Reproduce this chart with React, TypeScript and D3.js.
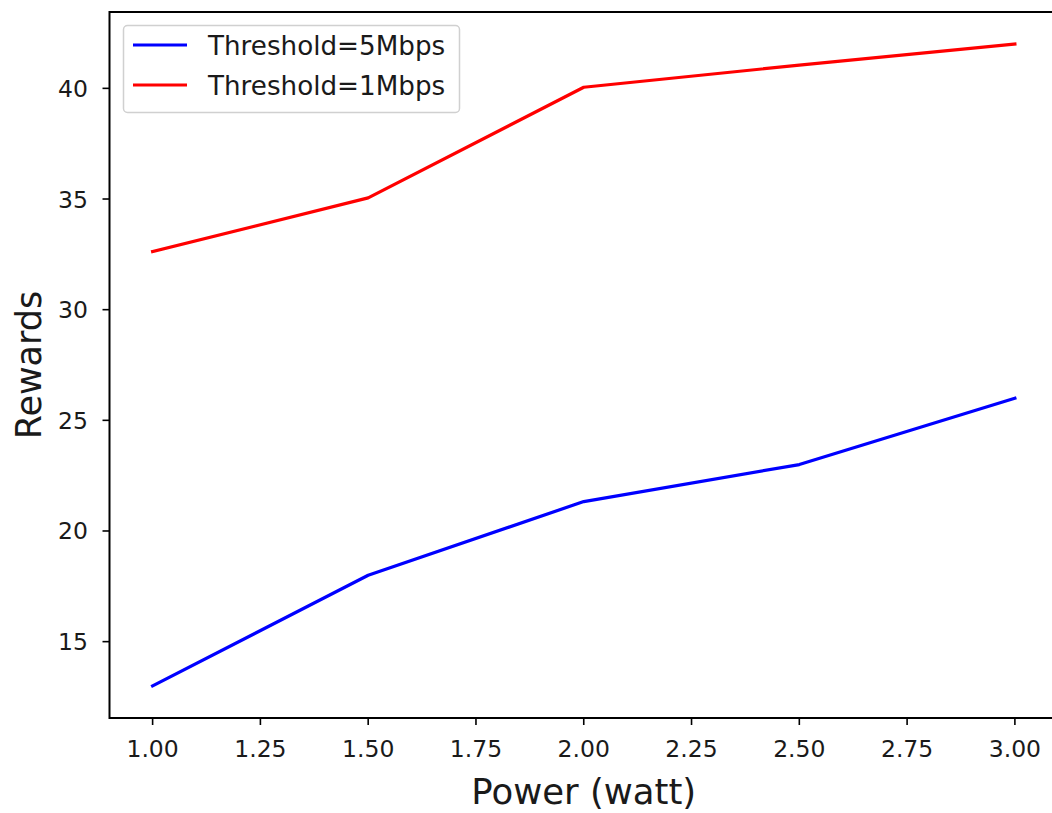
import React from "react";
import * as d3 from "d3";

const powers = [1.0, 1.5, 2.0, 2.5, 3.0];
const rewards5Mbps = [13.0, 18.0, 21.33, 23.0, 26.0];
const rewards1Mbps = [32.63, 35.05, 40.05, 41.05, 42.0];
const xTicks = [1.0, 1.25, 1.5, 1.75, 2.0, 2.25, 2.5, 2.75, 3.0];
const yTicks = [15, 20, 25, 30, 35, 40];
const seriesNames = ["Threshold=5Mbps", "Threshold=1Mbps"];
const seriesColors = ["#0000ff", "#ff0000"];

const W = 1052;
const H = 813;
const left = 109.5;
const right = 1058;
const top = 12;
const bottom = 718;
const font = "'DejaVu Sans', sans-serif";

export default function App() {
  const x = d3.scaleLinear().domain([0.9, 3.1]).range([left, right]);
  const allY = [...rewards5Mbps, ...rewards1Mbps];
  const yMin = d3.min(allY) as number;
  const yMax = d3.max(allY) as number;
  const pad = (yMax - yMin) * 0.05;
  const y = d3.scaleLinear().domain([yMin - pad, yMax + pad]).range([bottom, top]);
  const line = d3
    .line<number>()
    .x((_, i) => x(powers[i]))
    .y((d) => y(d));
  const series = [rewards5Mbps, rewards1Mbps];

  return (
    <svg
      width={W}
      height={H}
      style={{ position: "absolute", left: 0, top: 0, background: "#fff" }}
      fontFamily={font}
    >
      <rect x={0} y={0} width={W} height={H} fill="#fff" />
      {series.map((s, k) => (
        <path
          key={k}
          d={line(s) || ""}
          fill="none"
          stroke={seriesColors[k]}
          strokeWidth={3.2}
          strokeLinecap="square"
          strokeLinejoin="round"
        />
      ))}
      <rect
        x={left}
        y={top}
        width={right - left}
        height={bottom - top}
        fill="none"
        stroke="#000"
        strokeWidth={2}
      />
      {xTicks.map((t) => (
        <g key={t}>
          <line x1={x(t)} x2={x(t)} y1={bottom} y2={bottom + 7} stroke="#000" strokeWidth={1.6} />
          <text x={x(t)} y={757} textAnchor="middle" fontSize={23.5} fill="#1a1a1a">
            {t.toFixed(2)}
          </text>
        </g>
      ))}
      {yTicks.map((t) => (
        <g key={t}>
          <line x1={left - 7} x2={left} y1={y(t)} y2={y(t)} stroke="#000" strokeWidth={1.6} />
          <text x={88} y={y(t) + 8.5} textAnchor="end" fontSize={23.5} fill="#1a1a1a">
            {t}
          </text>
        </g>
      ))}
      <text x={(left + right) / 2} y={804} textAnchor="middle" fontSize={35.5} fill="#1a1a1a">
        Power (watt)
      </text>
      <text
        transform={`translate(41, ${(top + bottom) / 2}) rotate(-90)`}
        textAnchor="middle"
        fontSize={35}
        fill="#1a1a1a"
      >
        Rewards
      </text>
      <g>
        <rect
          x={123.5}
          y={25.5}
          width={336}
          height={87}
          rx={4}
          fill="#fff"
          fillOpacity={0.8}
          stroke="#d0d0d0"
          strokeWidth={1.5}
        />
        {seriesNames.map((n, k) => (
          <g key={n}>
            <line
              x1={133}
              x2={187}
              y1={45 + k * 40}
              y2={45 + k * 40}
              stroke={seriesColors[k]}
              strokeWidth={3.2}
            />
            <text x={208} y={45 + k * 40 + 9.5} fontSize={26.2} fill="#1a1a1a">
              {n}
            </text>
          </g>
        ))}
      </g>
    </svg>
  );
}
